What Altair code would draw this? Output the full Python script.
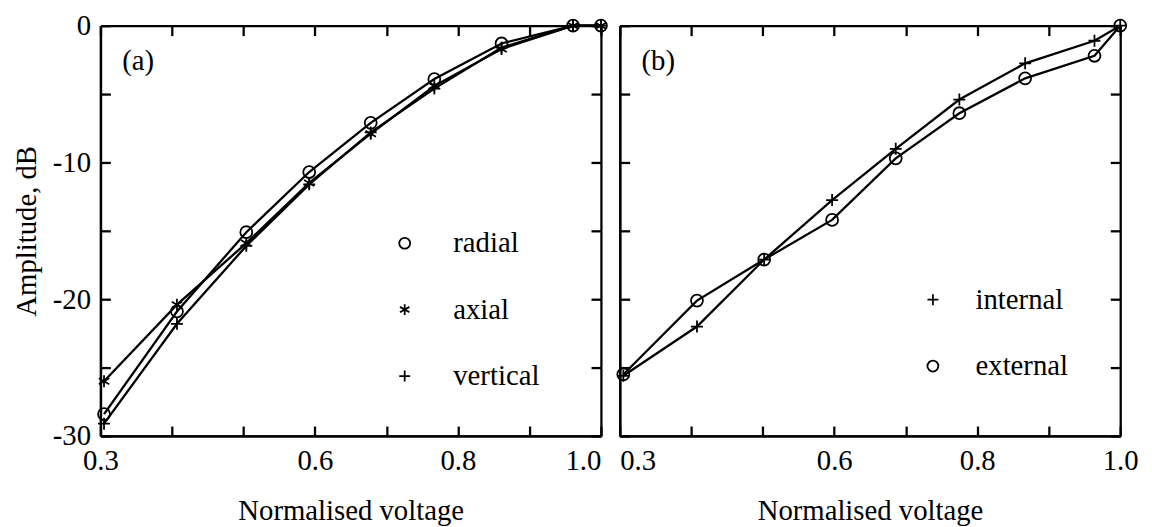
import altair as alt
import pandas as pd

# ---------------- data ----------------
volt_a = [0.305, 0.407, 0.504, 0.592, 0.678, 0.767, 0.861, 0.961, 1.0]
radial = [-28.4, -20.9, -15.1, -10.7, -7.1, -3.9, -1.3, 0.0, 0.0]
axial = [-26.0, -20.4, -15.9, -11.5, -7.9, -4.4, -1.7, 0.0, 0.0]
vertical = [-29.1, -21.8, -16.1, -11.6, -7.8, -4.6, -1.6, 0.0, 0.0]

volt_b = [0.305, 0.408, 0.502, 0.597, 0.686, 0.775, 0.867, 0.964, 1.0]
internal = [-25.6, -22.0, -17.1, -12.75, -9.0, -5.4, -2.75, -1.1, 0.0]
external = [-25.5, -20.1, -17.1, -14.2, -9.7, -6.4, -3.85, -2.2, 0.0]

series_a = ["radial", "axial", "vertical"]
series_b = ["internal", "external"]

x_ticks = [0.3, 0.4, 0.5, 0.6, 0.7, 0.8, 0.9, 1.0]
x_labels = [0.3, 0.6, 0.8, 1.0]
y_ticks = [0, -5, -10, -15, -20, -25, -30]
y_labels = [0, -10, -20, -30]

# ---------------- styling ----------------
W, H = 505, 414
FONT = "Liberation Serif"
FS = 29
LW = 2.3
ASTERISK = "M0,-1L0,1M-0.87,-0.5L0.87,0.5M-0.87,0.5L0.87,-0.5"
PLUS = "M-1,0L1,0M0,-1L0,1"


def long_table(volts, names, values):
    rows = []
    for n, vals in zip(names, values):
        for v, a in zip(volts, vals):
            rows.append({"volt": v, "amp": a, "series": n})
    return pd.DataFrame(rows)


tick_common = dict(labels=False, title=None, ticks=True, tickSize=10, tickWidth=LW,
                   tickColor="black", domain=True, domainWidth=LW, domainColor="black",
                   grid=False)


def panel(df, names, shapes, label, x_align, show_y, legend_x, legend_y, label_offset):
    xs = alt.Scale(domain=[0.3, 1.0], nice=False, zero=False)
    ys = alt.Scale(domain=[-30, 0], nice=False, zero=False)

    x_lab_axis = alt.Axis(orient="bottom", values=x_labels, format=".1f", ticks=False,
                          labelFont=FONT, labelFontSize=FS, labelColor="black",
                          labelPadding=11, labelAlign=x_align, labelFlush=False,
                          labelOverlap=False,
                          title="Normalised voltage", titleFont=FONT, titleFontSize=FS,
                          titleFontWeight="normal", titleColor="black", titlePadding=21,
                          domain=True, domainWidth=LW, domainColor="black", grid=False)
    if show_y:
        y_lab_axis = alt.Axis(orient="left", values=y_labels, labelExpr="toString(datum.value)",
                              ticks=False, labelFont=FONT, labelFontSize=FS,
                              labelColor="black", labelPadding=10, labelOverlap=False,
                              title="Amplitude, dB", titleFont=FONT, titleFontSize=FS,
                              titleFontWeight="normal", titleColor="black", titlePadding=11,
                              domain=True, domainWidth=LW, domainColor="black", grid=False)
    else:
        y_lab_axis = alt.Axis(orient="left", labels=False, ticks=False, title=None,
                              domain=True, domainWidth=LW, domainColor="black", grid=False)

    base = alt.Chart(df)
    line = base.mark_line(color="black", strokeWidth=LW).encode(
        x=alt.X("volt:Q", scale=xs, axis=x_lab_axis),
        y=alt.Y("amp:Q", scale=ys, axis=y_lab_axis),
        detail="series:N",
    )
    pts = base.mark_point(filled=False, color="black", strokeWidth=1.8, size=145, opacity=1).encode(
        x=alt.X("volt:Q", scale=xs,
                axis=alt.Axis(orient="top", offset=-H, values=x_ticks, **tick_common)),
        y=alt.Y("amp:Q", scale=ys,
                axis=alt.Axis(orient="right", offset=-W, values=y_ticks, **tick_common)),
        shape=alt.Shape("series:N", scale=alt.Scale(domain=names, range=shapes),
                        legend=alt.Legend(orient="none", legendX=legend_x, legendY=legend_y,
                                          title=None, labelFont=FONT, labelFontSize=FS,
                                          labelColor="black", symbolSize=121,
                                          symbolStrokeWidth=1.8, symbolStrokeColor="black",
                                          rowPadding=37, labelOffset=label_offset, padding=0)),
    )
    ghost = base.mark_point(opacity=0, size=1).encode(
        x=alt.X("volt:Q", scale=xs,
                axis=alt.Axis(orient="bottom", offset=-H, values=x_ticks, **tick_common)),
        y=alt.Y("amp:Q", scale=ys,
                axis=alt.Axis(orient="left", offset=-W, values=y_ticks, **tick_common)),
    )
    txt = alt.Chart(pd.DataFrame({"t": [label]})).mark_text(
        font=FONT, fontSize=FS, align="left", baseline="middle", color="black"
    ).encode(text="t:N", x=alt.value(22), y=alt.value(36))

    return (alt.layer(line, pts, ghost, txt)
            .resolve_axis(x="independent", y="independent")
            .properties(width=W, height=H))


df_a = long_table(volt_a, series_a, [radial, axial, vertical])
df_b = long_table(volt_b, series_b, [internal, external])

pa = panel(df_a, series_a, ["circle", ASTERISK, PLUS], "(a)",
           {"condition": {"test": "datum.value >= 0.99", "value": "right"}, "value": "center"},
           True, 292.5, 205, 34.5)
pb = panel(df_b, series_b, [PLUS, "circle"], "(b)",
           {"condition": {"test": "datum.value <= 0.31", "value": "left"}, "value": "center"},
           False, 301.5, 262, 28.5)

chart = (alt.hconcat(pa, pb, spacing=19, bounds="flush")
         .resolve_scale(shape="independent")
         .configure_view(stroke=None)
         .properties(padding={"left": 4.3, "top": 1.5, "right": 5, "bottom": 0},
                     background="white"))

chart.save("out.html", embed_options={"renderer": "svg", "actions": False})
